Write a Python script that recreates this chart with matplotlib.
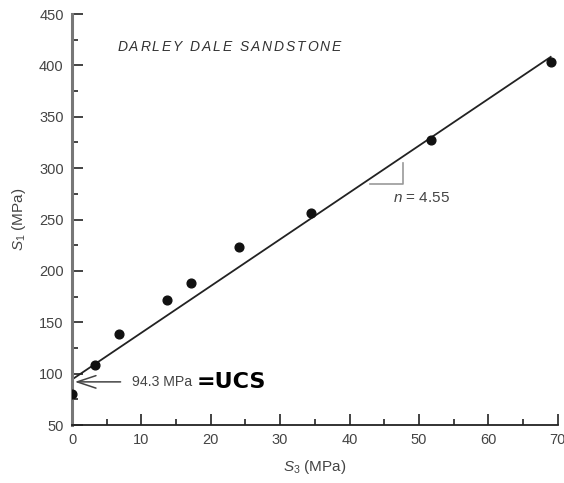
import matplotlib
matplotlib.use('Agg')
import matplotlib.pyplot as plt
from matplotlib import transforms
import numpy as np

# --- данные ---
s3 = [0.0, 3.3, 6.8, 13.7, 17.2, 24.0, 34.4, 51.7, 69.0]
s1 = [80, 108, 139, 172, 188, 223, 256, 327, 403]
ucs = 94.3
n_slope = 4.55
fit_x = [0, 69]
x_ticks = [0, 10, 20, 30, 40, 50, 60, 70]
y_ticks = [50, 100, 150, 200, 250, 300, 350, 400, 450]

plt.rcParams['font.family'] = ['Liberation Sans', 'DejaVu Sans']
plt.rcParams['mathtext.fontset'] = 'custom'
plt.rcParams['mathtext.it'] = 'Liberation Sans:italic'
plt.rcParams['mathtext.rm'] = 'Liberation Sans'
grey = '#444444'

fig = plt.figure(figsize=(5.64, 4.83), dpi=100)
ax = fig.add_axes([0.1277, 0.12, 0.861, 0.851])

# --- точки и линия огибающей ---
ax.plot(s3, s1, 'o', color='#111111', markersize=6.3, zorder=3)
fit_y = [ucs + n_slope * x for x in fit_x]
ax.plot(fit_x, fit_y, color='#222222', lw=1.3)

ax.set_xlim(0, 70)
ax.set_ylim(50, 450)
ax.set_xticks(x_ticks)
ax.set_yticks(y_ticks)
ax.set_xticks(np.arange(5, 70, 10), minor=True)
ax.set_yticks(np.arange(75, 450, 50), minor=True)
ax.tick_params(direction='in', length=8, width=1.2, labelsize=10.5,
               labelcolor=grey, color='#222222', pad=6)
ax.tick_params(which='minor', direction='in', length=4.5, width=1.2,
               color='#222222')

for side in ('top', 'right'):
    ax.spines[side].set_visible(False)
ax.spines['left'].set_linewidth(2.2)
ax.spines['left'].set_color('#777777')
ax.spines['bottom'].set_linewidth(1.3)
ax.spines['bottom'].set_color('#222222')

ax.set_xlabel(r'$S_3$ (MPa)', fontsize=11, color=grey, labelpad=8)
ax.set_ylabel(r'$S_1$ (MPa)', fontsize=11, color=grey, labelpad=8)


def spaced_text(x, y, s, track, **kw):
    '''Текст с разрядкой: каждая буква ставится отдельно.'''
    renderer = fig.canvas.get_renderer()
    for i, ch in enumerate(s):
        if i == 0:
            shift = 0
        else:
            probe = ax.text(x, y, s[:i], **kw)
            shift = probe.get_window_extent(renderer).width
            probe.remove()
        tr = transforms.offset_copy(ax.transData, fig=fig,
                                    x=shift + i * track, y=0, units='dots')
        ax.text(x, y, ch, transform=tr, **kw)


# --- подписи ---
spaced_text(6.5, 418, 'DARLEY DALE SANDSTONE', 1.9, style='italic',
            fontsize=10, color='#333333', va='center')

ax.annotate('', xy=(0, 92), xytext=(7.4, 92),
            arrowprops=dict(arrowstyle='->, head_length=0.75, head_width=0.25',
                            color='#444444', lw=1.1, mutation_scale=18))
ax.text(8.6, 92, '94.3 MPa', fontsize=10.2, color=grey, va='center')
ax.text(17.9, 92, '=UCS', fontsize=16, fontweight='bold', color='black',
        va='center', family='DejaVu Sans')

# --- треугольник наклона ---
ax.plot([42.9, 47.7, 47.7], [284.5, 284.5, 305], color='#999999', lw=1.2)
ax.text(46.3, 271, r'$n$ = 4.55', fontsize=11, color=grey, va='center')

fig.savefig('out.png', dpi=100)
